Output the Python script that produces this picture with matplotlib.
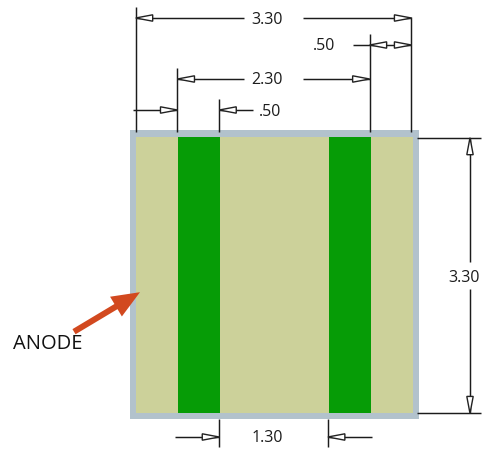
import matplotlib
matplotlib.use("Agg")
import matplotlib.pyplot as plt
from matplotlib.patches import Rectangle, Polygon, FancyArrow

# drawing values (inches)
plate_size = 3.30
stripe_starts = [0.50, 2.30]
stripe_width = 0.50
dim_labels = ["3.30", ".50", "2.30", ".50", "1.30", "3.30"]
callout = "ANODE"

# colours
BORDER = "#B2C2CC"; FILL = "#CCD19A"; GREEN = "#069C06"; ARROW = "#D2491F"; INK = "#1c1c1c"

plt.rcParams["font.family"] = ["Open Sans", "DejaVu Sans"]
fig = plt.figure(figsize=(4.83, 4.49), dpi=100)
ax = fig.add_axes([0, 0, 1, 1])
ax.set_xlim(0, 483); ax.set_ylim(449, 0); ax.axis("off")

def PX(u): return 136 + 84 * u          # plate x
def PY(u): return 137 + 84 * u          # plate y
def DX(u): return 135.7 + 83.55 * u     # dimension x
def DY(u): return 137.7 + 83.55 * u     # dimension y

# plate
ax.add_patch(Rectangle((130, 130), 289, 289, fc=BORDER, ec="none", zorder=1))
ax.add_patch(Rectangle((PX(0), PY(0)), 84 * plate_size, 84 * plate_size - 1, fc=FILL, ec="none", zorder=2))
for s in stripe_starts:
    ax.add_patch(Rectangle((PX(s), PY(0)), 84 * stripe_width, 84 * plate_size - 1, fc=GREEN, ec="none", zorder=3))

LW = 1.05
def line(xs, ys):
    ax.plot(xs, ys, color=INK, lw=LW, solid_capstyle="butt", zorder=5)

def head(x, y, dx, dy, length=17, half=3.2):
    """hollow arrowhead, tip at (x,y), pointing along (dx,dy)"""
    bx, by = x - dx * length, y - dy * length
    nx, ny = -dy * half, dx * half
    ax.add_patch(Polygon([(x, y), (bx + nx, by + ny), (bx - nx, by - ny)], closed=True,
                         fc="white", ec="#222222", lw=1.0, zorder=6))

x0, x05, x10, x23, x28, x33 = DX(0), DX(.5), DX(1.0), DX(2.3), DX(2.8), DX(3.3)

# extension lines (top)
line([x0, x0], [7, 132]); line([x33, x33], [17, 132]); line([x28, x28], [34, 132])
line([x05, x05], [68, 132]); line([x10, x10], [99, 132])

# 3.30 overall width
line([x0, 244], [18, 18]); line([303, x33], [18, 18])
head(x0, 18, -1, 0); head(x33, 18, 1, 0)
ax.text(267, 19.5, dim_labels[0], ha="center", va="center", fontsize=11.5, color=INK, zorder=7)

# .50 right
line([353, x33], [45, 45])
head(x28, 45, -1, 0); head(x33, 45, 1, 0)
ax.text(324, 46.5, dim_labels[1], ha="center", va="center", fontsize=11.5, color=INK, zorder=7)

# 2.30
line([x05, 244], [79, 79]); line([303, x28], [79, 79])
head(x05, 79, -1, 0); head(x28, 79, 1, 0)
ax.text(267, 80.5, dim_labels[2], ha="center", va="center", fontsize=11.5, color=INK, zorder=7)

# .50 left
line([133, x05], [110, 110]); line([x10, 253], [110, 110])
head(x05, 110, 1, 0); head(x10, 110, -1, 0)
ax.text(270, 111.5, dim_labels[3], ha="center", va="center", fontsize=11.5, color=INK, zorder=7)

# 1.30 bottom
line([x10, x10], [419, 447]); line([x23, x23], [419, 447])
line([175, x10], [437, 437]); line([x23, 372], [437, 437])
head(x10, 437, 1, 0); head(x23, 437, -1, 0)
ax.text(267, 438.5, dim_labels[4], ha="center", va="center", fontsize=11.5, color=INK, zorder=7)

# 3.30 right
y0, y33 = DY(0), DY(3.3)
line([417, 481], [y0, y0]); line([417, 481], [y33, y33])
line([470, 470], [y0, 262]); line([470, 470], [289, y33])
head(470, y0, 0, -1); head(470, y33, 0, 1)
ax.text(464, 277.5, dim_labels[5], ha="center", va="center", fontsize=11.5, color=INK, zorder=7)

# anode call-out
ax.add_patch(FancyArrow(74, 331.7, 66, -39.5, width=6, head_width=23, head_length=28,
                        length_includes_head=True, fc=ARROW, ec="none", zorder=6))
ax.text(13, 344, callout, ha="left", va="center", fontsize=14.5, color="#111111", zorder=5)

fig.savefig("out.png", dpi=100)
